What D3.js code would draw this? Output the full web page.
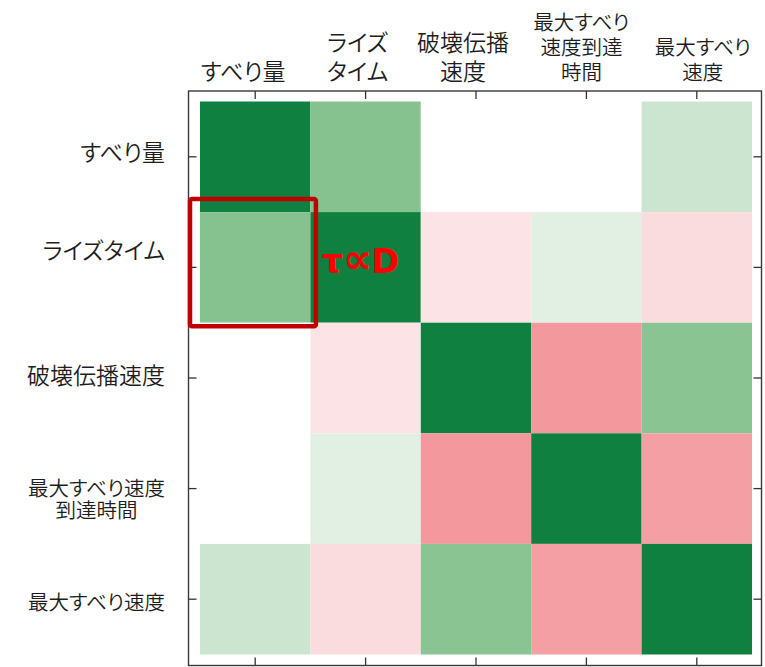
<!DOCTYPE html>
<html>
<head>
<meta charset="utf-8">
<script src="https://cdn.jsdelivr.net/npm/d3@7/dist/d3.min.js"></script>
<style>
  html, body { margin: 0; padding: 0; background: #fff; }
  svg { display: block; }
  .lbl { font-family: "Noto Sans CJK JP", "Noto Sans", sans-serif; font-weight: 350; fill: #1e1e1e; font-feature-settings: "palt"; }
</style>
</head>
<body>
<svg id="chart" width="765" height="667"></svg>
<script>
// ---- data ----
const rowLabels = ["すべり量", "ライズタイム", "破壊伝播速度", "最大すべり速度\n到達時間", "最大すべり速度"];
const colLabels = ["すべり量", "ライズ\nタイム", "破壊伝播\n速度", "最大すべり\n速度到達\n時間", "最大すべり\n速度"];
const corrRow0 = [1.00, 0.50, 0.00, 0.00, 0.21];
const corrRow1 = [0.50, 1.00, -0.13, 0.12, -0.17];
const corrRow2 = [0.00, -0.13, 1.00, -0.50, 0.48];
const corrRow3 = [0.00, 0.12, -0.50, 1.00, -0.47];
const corrRow4 = [0.21, -0.17, 0.48, -0.47, 1.00];
const annotationParts = ["τ", "∝", "D"];
const highlightCell = { row: 1, col: 0 };
const annotationCell = { row: 1, col: 1 };

// ---- layout config ----
const colLabelDx = [-12, -8, -13, -5, 6];
const colLineH = [29, 29, 29, 25, 25];
const colFont = [23, 23, 23, 20.5, 20.5];
const rowLabelDy = [-4, -17, -2, 11, 3];
const rowLineH = [23, 23, 23, 22.5, 22.5];
const rowFont = [23, 23, 23, 20.5, 20.5];
const annotationPartSize = [34, 41, 34];
const annotationPartDx = [0, 0, -1];

const matrix = [corrRow0, corrRow1, corrRow2, corrRow3, corrRow4];
const cells = [];
matrix.forEach((r, i) => r.forEach((v, j) => cells.push({ row: i, col: j, value: v })));

const svg = d3.select("#chart");
const frame = { left: 188.5, top: 91, right: 761.5, bottom: 665.5 };

const x = d3.scaleBand().domain(d3.range(colLabels.length)).range([200, 752]).paddingInner(0);
const y = d3.scaleBand().domain(d3.range(rowLabels.length)).range([101.5, 654.5]).paddingInner(0);

const color = d3.scaleLinear()
  .domain([-1, 0, 0.5, 1])
  .range(["#e7333b", "#ffffff", "#85c28f", "#108040"])
  .interpolate(d3.interpolateRgb)
  .clamp(true);

// cells
svg.append("g").selectAll("rect").data(cells).join("rect")
  .attr("x", d => x(d.col))
  .attr("y", d => y(d.row))
  .attr("width", x.bandwidth())
  .attr("height", y.bandwidth())
  .attr("fill", d => color(d.value));

// frame
svg.append("rect")
  .attr("x", frame.left).attr("y", frame.top)
  .attr("width", frame.right - frame.left).attr("height", frame.bottom - frame.top)
  .attr("fill", "none").attr("stroke", "#3a3a3a").attr("stroke-width", 1.4);

// ticks (inward)
function styleAxis(g) {
  g.select(".domain").remove();
  g.selectAll("text").remove();
  g.selectAll("line").attr("stroke", "#333").attr("stroke-width", 1.3);
}
svg.append("g").attr("transform", `translate(0,${frame.top})`).call(d3.axisTop(x).tickSize(-8)).call(styleAxis);
svg.append("g").attr("transform", `translate(0,${frame.bottom})`).call(d3.axisBottom(x).tickSize(-8)).call(styleAxis);
svg.append("g").attr("transform", `translate(${frame.left},0)`).call(d3.axisLeft(y).tickSize(-8)).call(styleAxis);
svg.append("g").attr("transform", `translate(${frame.right},0)`).call(d3.axisRight(y).tickSize(-8)).call(styleAxis);

// column labels (top), last line baseline fixed
const colBaseline = 80;
colLabels.forEach((lab, j) => {
  const lines = lab.split("\n");
  const cx = x(j) + x.bandwidth() / 2 + colLabelDx[j];
  const t = svg.append("text").attr("class", "lbl").attr("text-anchor", "middle")
    .style("font-size", colFont[j] + "px");
  lines.forEach((ln, k) => {
    t.append("tspan").attr("x", cx)
      .attr("y", colBaseline - (lines.length - 1 - k) * colLineH[j])
      .text(ln);
  });
});

// row labels (left), block right-aligned, lines centered
const rowRight = 165;
rowLabels.forEach((lab, i) => {
  const lines = lab.split("\n");
  const cy = y(i) + y.bandwidth() / 2 + rowLabelDy[i];
  const t = svg.append("text").attr("class", "lbl").attr("text-anchor", "middle")
    .style("font-size", rowFont[i] + "px");
  const emCenter = rowFont[i] * 0.365;
  const firstBase = cy - (lines.length - 1) * rowLineH[i] / 2 + emCenter;
  const spans = lines.map((ln, k) => t.append("tspan").attr("y", firstBase + k * rowLineH[i]).text(ln));
  const maxW = d3.max(spans, s => s.node().getComputedTextLength());
  spans.forEach(s => s.attr("x", rowRight - maxW / 2));
});

// highlight box
const hb = {
  x0: x(highlightCell.col) - 10, x1: x(highlightCell.col) + x.bandwidth() + 5.5,
  y0: y(highlightCell.row) - 13, y1: y(highlightCell.row) + y.bandwidth() + 3.5
};
svg.append("rect")
  .attr("x", hb.x0).attr("y", hb.y0)
  .attr("width", hb.x1 - hb.x0).attr("height", hb.y1 - hb.y0)
  .attr("rx", 2)
  .attr("fill", "none").attr("stroke", "#c00000").attr("stroke-width", 4.5);

// annotation text
const ann = svg.append("text")
  .attr("x", x(annotationCell.col) + 11)
  .attr("y", y(annotationCell.row) + y.bandwidth() / 2 + 6)
  .attr("font-family", "DejaVu Sans, sans-serif")
  .attr("font-weight", "bold")
  .attr("fill", "#ff0000");
annotationParts.forEach((p, k) => {
  ann.append("tspan")
    .attr("font-size", annotationPartSize[k])
    .attr("dx", annotationPartDx[k])
    .text(p);
});
</script>
</body>
</html>
